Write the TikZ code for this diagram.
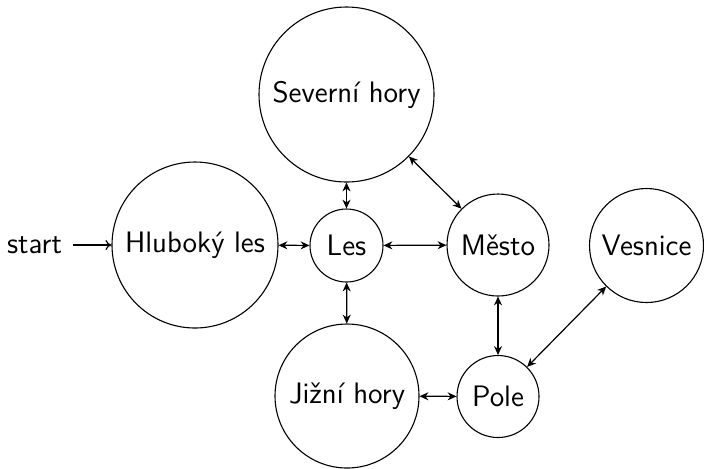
\documentclass[tikz,border=0pt]{standalone}
\usetikzlibrary{arrows.meta}
\begin{document}
\begin{tikzpicture}[x=0.5pt,y=-0.5pt,
  st/.style={circle, draw, line width=0.55pt, inner sep=0pt, font=\sffamily\fontsize{14.8}{17}\selectfont},
  lbl/.style={inner sep=0pt, font=\sffamily\fontsize{14.8}{17}\selectfont},
  lnk/.style={{Stealth[length=4.4pt,width=4pt,inset=1.4pt]}-{Stealth[length=4.4pt,width=4pt,inset=1.4pt]}, line width=0.6pt},
  init/.style={-{To[length=3pt,width=5pt]}, line width=0.6pt}]
\useasboundingbox (0,0) rectangle (704,468);
\node[st, minimum size=87.5pt] (sev) at (346.5,94.5) {Severní hory};
\node[st, minimum size=83pt] (hl) at (195,245) {Hluboký les};
\node[st, minimum size=36.5pt] (les) at (346.5,245.5) {Les};
\node[st, minimum size=51pt] (mes) at (498,245) {Město};
\node[st, minimum size=57pt] (ves) at (646.5,245.5) {Vesnice};
\node[st, minimum size=72pt] (jiz) at (347,396) {Jižní hory};
\node[st, minimum size=41pt] (pole) at (498,396.5) {Pole};
\node[lbl] (start) at (34.5,245) {start};
\draw[init] ([xshift=5.5pt]start.east) -- (hl);
\draw[lnk] (hl) -- (les);
\draw[lnk] (les) -- (sev);
\draw[lnk] (les) -- (mes);
\draw[lnk] (les) -- (jiz);
\draw[lnk] (sev) -- (mes);
\draw[lnk] (mes) -- (pole);
\draw[lnk] (jiz) -- (pole);
\draw[lnk] (pole) -- (ves);
\end{tikzpicture}
\end{document}
